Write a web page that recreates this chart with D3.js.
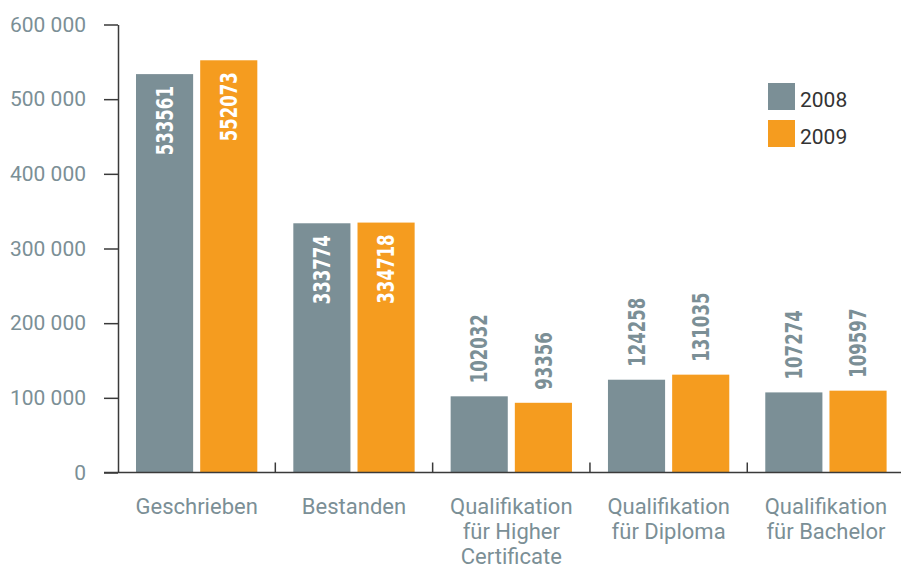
<!doctype html>
<html>
<head>
<meta charset="utf-8">
<title>Geschrieben / Bestanden 2008-2009</title>
<script src="https://d3js.org/d3.v7.min.js"></script>
<style>
    body { margin: 0; background: #fff; }
    .axis-label { font-family: Roboto, "Open Sans", sans-serif; fill: #7b8f96; }
    .value { font-family: "DejaVu Sans Condensed", "Liberation Sans", sans-serif; font-weight: bold; font-size: 23px; }
</style>
</head>
<body>
<script>
const categories = ["Geschrieben", "Bestanden", "Qualifikation\nfür Higher\nCertificate", "Qualifikation\nfür Diploma", "Qualifikation\nfür Bachelor"];
const years = ["2008", "2009"];
const values2008 = [533561, 333774, 102032, 124258, 107274];
const values2009 = [552073, 334718, 93356, 131035, 109597];
const yTicks = [0, 100000, 200000, 300000, 400000, 500000, 600000];
const colors = ["#7b8f96", "#f59c1f"];

const w = 901, h = 566;
const plotLeft = 118, plotRight = 904.6, plotTop = 24.5, plotBottom = 472.5;

const svg = d3.select("body").append("svg")
    .attr("width", w)
    .attr("height", h);

const x0 = d3.scaleBand().domain(categories).range([plotLeft, plotRight]);
const x1 = d3.scaleBand().domain(years)
    .range([18, x0.bandwidth() - 18])
    .paddingInner(0.11);
const y = d3.scaleLinear().domain([0, 600000]).range([plotBottom, plotTop]);

const data = categories.map((c, i) => ({
    cat: c,
    vals: [values2008[i], values2009[i]]
}));

// bars
const groups = svg.selectAll("g.cat")
    .data(data)
    .enter().append("g")
    .attr("class", "cat")
    .attr("transform", d => "translate(" + x0(d.cat) + ",0)");

groups.selectAll("rect")
    .data(d => d.vals.map((v, j) => ({ year: years[j], v: v, j: j })))
    .enter().append("rect")
    .attr("x", d => x1(d.year))
    .attr("y", d => y(d.v))
    .attr("width", x1.bandwidth())
    .attr("height", d => plotBottom - y(d.v))
    .attr("fill", d => colors[d.j]);

// value labels (rotated, condensed)
groups.selectAll("text.value")
    .data(d => d.vals.map((v, j) => ({ year: years[j], v: v, j: j })))
    .enter().append("text")
    .attr("class", "value")
    .attr("transform", d => {
        const cx = x1(d.year) + x1.bandwidth() / 2;
        const inside = d.v > 200000;
        const yy = inside ? y(d.v) + 12 : y(d.v) - 13;
        return "translate(" + cx + "," + yy + ") rotate(-90) scale(0.8,1)";
    })
    .attr("dy", "0.36em")
    .attr("text-anchor", d => d.v > 200000 ? "end" : "start")
    .attr("fill", d => d.v > 200000 ? "#fff" : "#7b8f96")
    .text(d => d.v);

// y axis
const yAxis = d3.axisLeft(y)
    .tickValues(yTicks)
    .tickSize(14)
    .tickSizeOuter(0)
    .tickPadding(18)
    .tickFormat(d => d3.format(",")(d).replace(/,/g, " "));

const gy = svg.append("g")
    .attr("transform", "translate(" + plotLeft + ",0)")
    .call(yAxis);
gy.attr("font-family", null).attr("font-size", null);
gy.selectAll("path, line").attr("stroke", "#3a3a3a").attr("stroke-width", 1.5);
gy.selectAll("text")
    .attr("class", "axis-label")
    .style("font-size", "21px")
    .attr("fill", null);

// x axis line and separators
svg.append("line")
    .attr("x1", 104).attr("x2", w)
    .attr("y1", plotBottom).attr("y2", plotBottom)
    .attr("stroke", "#3a3a3a").attr("stroke-width", 1.5);

svg.selectAll("line.sep")
    .data(categories.slice(1))
    .enter().append("line")
    .attr("class", "sep")
    .attr("x1", d => x0(d)).attr("x2", d => x0(d))
    .attr("y1", plotBottom - 10).attr("y2", plotBottom)
    .attr("stroke", "#3a3a3a").attr("stroke-width", 1.5);

// category labels
const catText = svg.selectAll("text.cat")
    .data(categories)
    .enter().append("text")
    .attr("class", "axis-label")
    .attr("text-anchor", "middle")
    .style("font-size", "22px")
    .attr("transform", d => "translate(" + (x0(d) + x0.bandwidth() / 2) + ",514)");

catText.selectAll("tspan")
    .data(d => d.split("\n"))
    .enter().append("tspan")
    .attr("x", 0)
    .attr("y", (d, i) => i * 25)
    .text(d => d);

// legend
const legend = svg.selectAll("g.legend")
    .data(years)
    .enter().append("g")
    .attr("class", "legend")
    .attr("transform", (d, i) => "translate(768," + (83 + i * 37) + ")");

legend.append("rect")
    .attr("width", 27).attr("height", 27)
    .attr("fill", (d, i) => colors[i]);

legend.append("text")
    .attr("x", 32).attr("y", 23.5)
    .style("font-family", "Roboto, 'Open Sans', sans-serif")
    .style("font-size", "21px")
    .attr("fill", "#333")
    .text(d => d);
</script>
</body>
</html>
